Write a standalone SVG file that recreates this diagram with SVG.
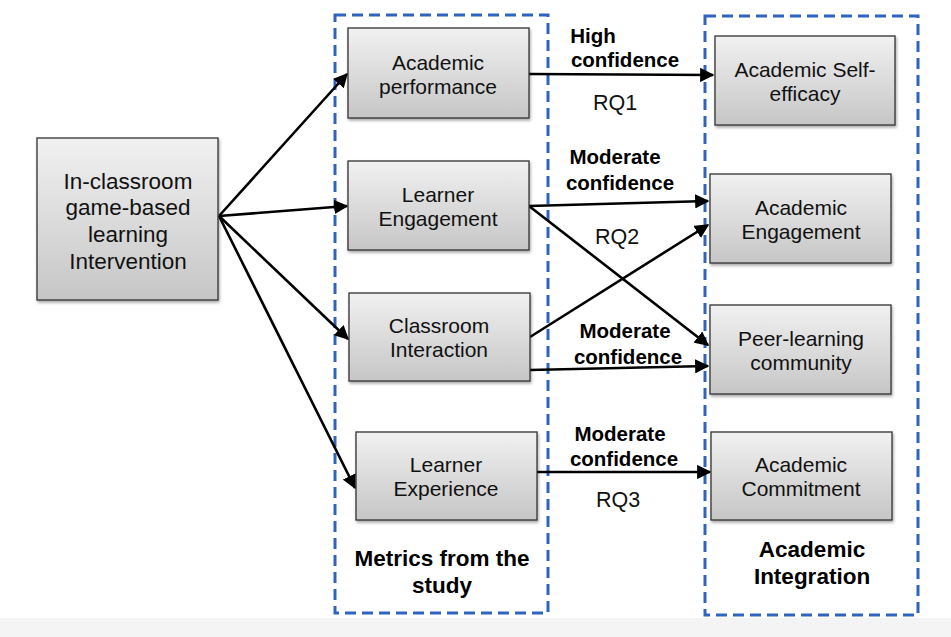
<svg xmlns="http://www.w3.org/2000/svg" width="951" height="637" viewBox="0 0 951 637">
<defs>
<linearGradient id="g" x1="0" y1="0" x2="0" y2="1">
<stop offset="0" stop-color="#f1f1f1"/>
<stop offset="1" stop-color="#c6c6c6"/>
</linearGradient>
<filter id="sh" x="-10%" y="-10%" width="130%" height="130%">
<feGaussianBlur in="SourceAlpha" stdDeviation="1.5"/>
<feOffset dx="1" dy="2" result="b"/>
<feComponentTransfer><feFuncA type="linear" slope="0.35"/></feComponentTransfer>
<feMerge><feMergeNode/><feMergeNode in="SourceGraphic"/></feMerge>
</filter>
<marker id="ah" viewBox="0 0 10 10" refX="9" refY="5" markerWidth="5.5" markerHeight="5.5" orient="auto" markerUnits="strokeWidth">
<path d="M0,0 L10,5 L0,10 z" fill="#000"/>
</marker>
</defs>
<style>
.box{fill:url(#g);stroke:#333;stroke-width:1.3;filter:url(#sh)}
.t{font-family:"Liberation Sans",Arial,sans-serif;font-size:21px;fill:#111;text-anchor:middle}
.tl{font-family:"Liberation Sans",Arial,sans-serif;font-size:22.5px;fill:#111;text-anchor:middle}
.b{font-family:"Liberation Sans",Arial,sans-serif;font-size:20.5px;font-weight:bold;fill:#000;text-anchor:middle}
.bb{font-family:"Liberation Sans",Arial,sans-serif;font-size:22.5px;font-weight:bold;fill:#000;text-anchor:middle}
.r{font-family:"Liberation Sans",Arial,sans-serif;font-size:21.5px;fill:#111;text-anchor:middle}
.dash{fill:none;stroke:#2f63c0;stroke-width:3;stroke-dasharray:11,6}
.c{stroke:#000;stroke-width:2.6;fill:none;marker-end:url(#ah)}
</style>
<rect x="0" y="0" width="951" height="637" fill="#fff"/>
<rect x="0" y="618" width="951" height="19" fill="#f4f4f4"/>

<g id="group-metrics">
<rect class="dash" x="335" y="15" width="213" height="598"/>
<text class="bb" x="442" y="566">Metrics from the</text>
<text class="bb" x="442" y="593">study</text>
</g>
<g id="group-integration">
<rect class="dash" x="705" y="16" width="213" height="599"/>
<text class="bb" x="812" y="557">Academic</text>
<text class="bb" x="812" y="584">Integration</text>
</g>

<g id="connectors">
<line class="c" x1="219" y1="216" x2="347" y2="74"/>
<line class="c" x1="219" y1="216" x2="347" y2="206"/>
<line class="c" x1="219" y1="216" x2="348" y2="339"/>
<line class="c" x1="219" y1="216" x2="355" y2="488"/>
<line class="c" x1="529" y1="74" x2="713" y2="75"/>
<line class="c" x1="529" y1="206" x2="708" y2="201"/>
<line class="c" x1="529" y1="206" x2="708" y2="345"/>
<line class="c" x1="530" y1="337" x2="708" y2="225"/>
<line class="c" x1="530" y1="370" x2="708" y2="366"/>
<line class="c" x1="537" y1="472" x2="710" y2="472"/>
</g>

<g id="labels">
<text class="b" x="593" y="43">High</text>
<text class="b" x="625" y="67">confidence</text>
<text class="r" x="615" y="110">RQ1</text>
<text class="b" x="615" y="164">Moderate</text>
<text class="b" x="620" y="190">confidence</text>
<text class="r" x="617" y="244">RQ2</text>
<text class="b" x="625" y="338">Moderate</text>
<text class="b" x="628" y="364">confidence</text>
<text class="b" x="620" y="441">Moderate</text>
<text class="b" x="624" y="466">confidence</text>
<text class="r" x="618" y="507">RQ3</text>
</g>

<g id="intervention">
<rect class="box" x="37" y="138" width="181" height="162"/>
<text class="tl" x="128" y="189">In-classroom</text>
<text class="tl" x="128" y="215">game-based</text>
<text class="tl" x="128" y="242">learning</text>
<text class="tl" x="128" y="269">Intervention</text>
</g>
<g id="academic-performance">
<rect class="box" x="348" y="28" width="181" height="90"/>
<text class="t" x="438" y="70">Academic</text>
<text class="t" x="438" y="94">performance</text>
</g>
<g id="learner-engagement">
<rect class="box" x="348" y="161" width="181" height="89"/>
<text class="t" x="438" y="202">Learner</text>
<text class="t" x="438" y="226">Engagement</text>
</g>
<g id="classroom-interaction">
<rect class="box" x="349" y="293" width="181" height="88"/>
<text class="t" x="439" y="333">Classroom</text>
<text class="t" x="439" y="357">Interaction</text>
</g>
<g id="learner-experience">
<rect class="box" x="356" y="432" width="181" height="88"/>
<text class="t" x="446" y="472">Learner</text>
<text class="t" x="446" y="496">Experience</text>
</g>
<g id="academic-self-efficacy">
<rect class="box" x="715" y="36" width="180" height="89"/>
<text class="t" x="805" y="77">Academic Self-</text>
<text class="t" x="805" y="101">efficacy</text>
</g>
<g id="academic-engagement">
<rect class="box" x="710" y="174" width="181" height="89"/>
<text class="t" x="801" y="215">Academic</text>
<text class="t" x="801" y="239">Engagement</text>
</g>
<g id="peer-learning-community">
<rect class="box" x="710" y="305" width="181" height="89"/>
<text class="t" x="801" y="346">Peer-learning</text>
<text class="t" x="801" y="370">community</text>
</g>
<g id="academic-commitment">
<rect class="box" x="711" y="432" width="181" height="88"/>
<text class="t" x="801" y="472">Academic</text>
<text class="t" x="801" y="496">Commitment</text>
</g>
</svg>
